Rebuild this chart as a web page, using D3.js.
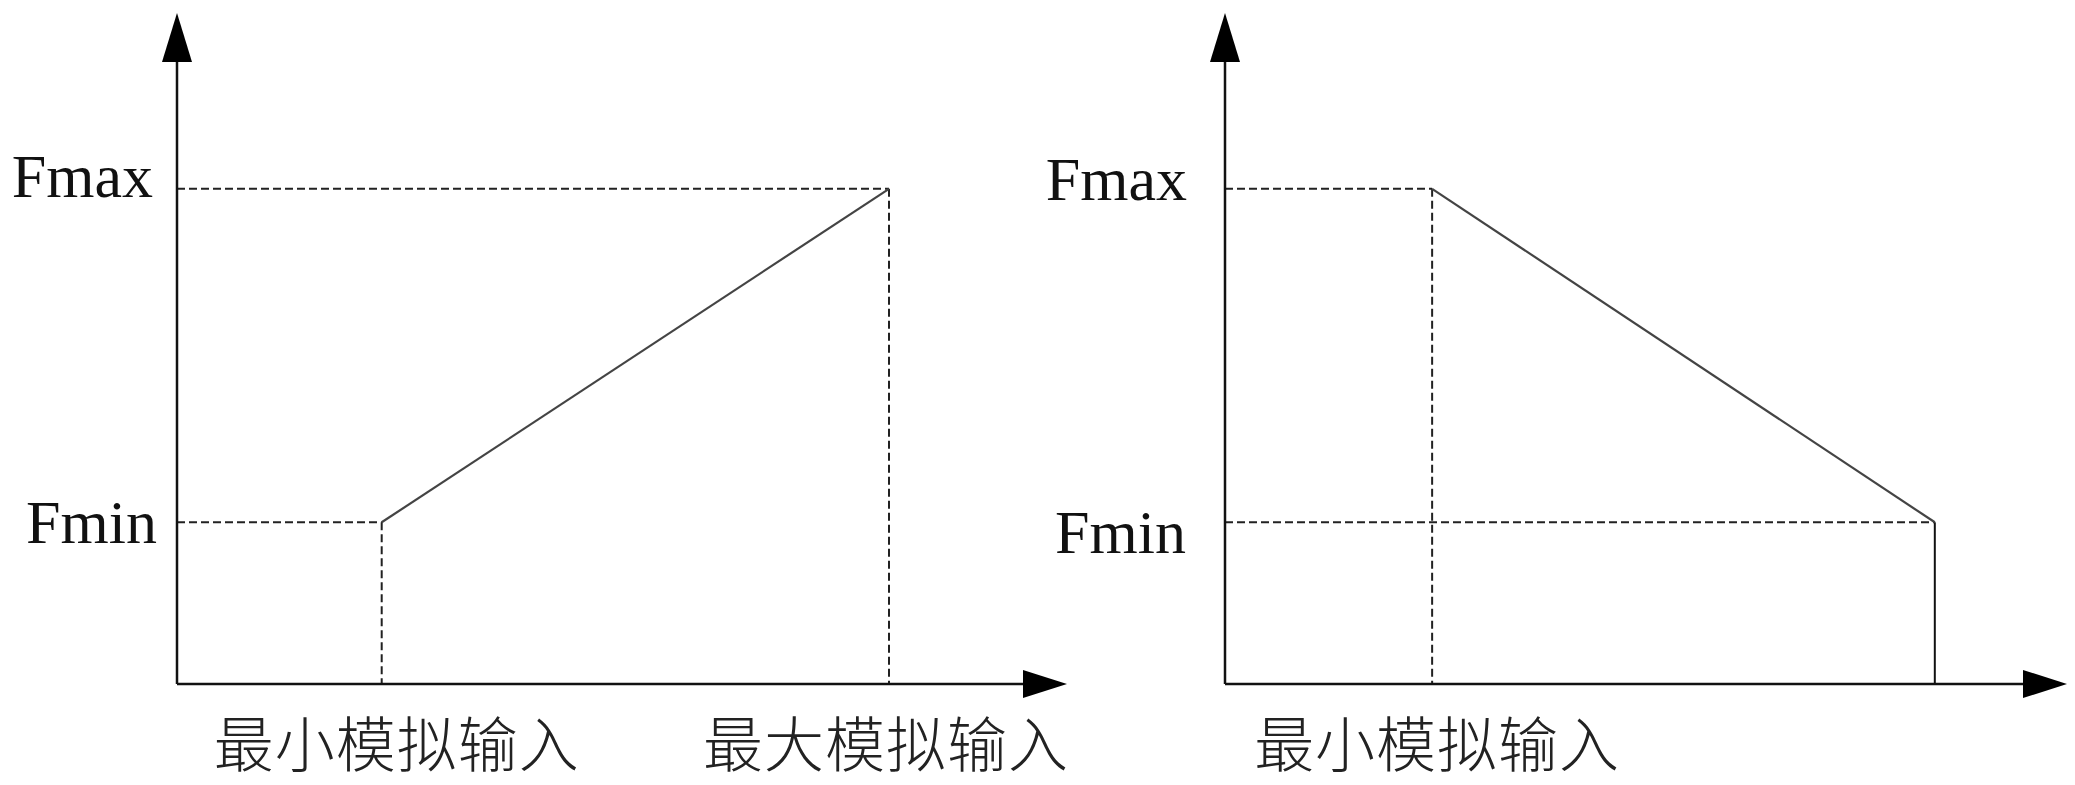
<!DOCTYPE html>
<html>
<head>
<meta charset="utf-8">
<script src="https://cdn.jsdelivr.net/npm/d3@7/dist/d3.min.js"></script>
<style>
  html, body { margin: 0; padding: 0; background: #fff; }
  svg { display: block; }
</style>
</head>
<body>
<svg id="chart" width="2075" height="785"></svg>
<script>
// ---- data ----
const yLabels = ["Fmin", "Fmax"];
const leftInputs = [23, 80];          // min / max analog input (x)
const leftOutputs = [24.1, 73.8];     // frequency at min / max input
const leftXLabels = ["最小模拟输入", "最大模拟输入"];
const rightInputs = [24.6, 84.3];
const rightOutputs = [73.8, 24.1];
const rightXLabels = ["最小模拟输入"];

// ---- layout ----
const svg = d3.select("#chart");
const W = 2075, H = 785;
svg.append("rect").attr("width", W).attr("height", H).attr("fill", "#fff");

const panels = [
  { inputs: leftInputs, outputs: leftOutputs, xLabels: leftXLabels,
    x0: 177, x1: 1067, labelEnd: [20, 24], labelDy: [21, 8], xLabelDx: [15, -3], mode: "rise" },
  { inputs: rightInputs, outputs: rightOutputs, xLabels: rightXLabels,
    x0: 1225, x1: 2067, labelEnd: [39, 38], labelDy: [31, 11], xLabelDx: [5], mode: "fall" }
];
const yTop = 13, yBase = 684;
const y = d3.scaleLinear().domain([0, 100]).range([yBase, yTop]);

const axisColor = "#111";
const dashColor = "#222";

panels.forEach(p => {
  const x = d3.scaleLinear().domain([0, 100]).range([p.x0, p.x1]);
  const g = svg.append("g");
  const fmin = d3.min(p.outputs), fmax = d3.max(p.outputs);
  const line = d3.line().x(d => x(d[0])).y(d => y(d[1]));

  const dashed = (pts) => g.append("path").attr("d", line(pts))
      .attr("fill", "none").attr("stroke", dashColor).attr("stroke-width", 2)
      .attr("stroke-dasharray", "8,4");
  const solid = (pts, col, w) => g.append("path").attr("d", line(pts))
      .attr("fill", "none").attr("stroke", col).attr("stroke-width", w);

  const [xMin, xMax] = p.inputs;
  if (p.mode === "rise") {
    dashed([[0, fmax], [xMax, fmax]]);
    dashed([[xMax, fmax], [xMax, 0]]);
    dashed([[0, fmin], [xMin, fmin]]);
    dashed([[xMin, fmin], [xMin, 0]]);
  } else {
    dashed([[0, fmax], [xMin, fmax]]);
    dashed([[xMin, fmax], [xMin, 0]]);
    dashed([[0, fmin], [xMax, fmin]]);
    solid([[xMax, fmin], [xMax, 0]], axisColor, 2);
  }
  // transfer curve
  solid([[xMin, p.outputs[0]], [xMax, p.outputs[1]]], "#444", 2.2);

  // axes
  const ax = x(0), ay = y(0);
  g.append("line").attr("x1", ax).attr("y1", ay).attr("x2", ax).attr("y2", yTop + 40)
    .attr("stroke", axisColor).attr("stroke-width", 2.5);
  g.append("line").attr("x1", ax).attr("y1", ay).attr("x2", p.x1 - 40).attr("y2", ay)
    .attr("stroke", axisColor).attr("stroke-width", 2.5);
  // arrowheads
  g.append("path")
    .attr("d", `M${ax},${yTop} L${ax - 15},${yTop + 49} L${ax + 15},${yTop + 49} Z`)
    .attr("fill", "#000");
  g.append("path")
    .attr("d", `M${p.x1},${ay} L${p.x1 - 44},${ay - 14} L${p.x1 - 44},${ay + 14} Z`)
    .attr("fill", "#000");

  // y labels
  [fmin, fmax].forEach((v, i) => {
    g.append("text")
      .attr("x", ax - p.labelEnd[i]).attr("y", y(v) + p.labelDy[i])
      .attr("text-anchor", "end")
      .attr("font-family", "'Liberation Serif', 'Times New Roman', serif")
      .attr("font-size", 62).attr("fill", "#111")
      .text(yLabels[i]);
  });

  // x labels
  p.xLabels.forEach((t, i) => {
    g.append("text")
      .attr("x", x(p.inputs[i]) + p.xLabelDx[i]).attr("y", 767)
      .attr("text-anchor", "middle")
      .attr("font-family", "'Noto Sans CJK SC', sans-serif")
      .attr("font-weight", 300)
      .attr("letter-spacing", 1)
      .attr("font-size", 60).attr("fill", "#222")
      .text(t);
  });
});
</script>
</body>
</html>
